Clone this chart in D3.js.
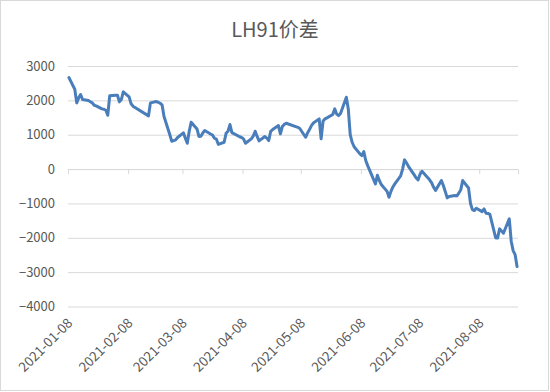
<!DOCTYPE html>
<html>
<head>
<meta charset="utf-8">
<script src="https://cdn.jsdelivr.net/npm/d3@7"></script>
<style>
  body { margin: 0; background: #fff; }
</style>
</head>
<body>
<div id="chart"></div>
<script>
// chart data
const title = "LH91价差";

const dates = [
  "2021-01-08","2021-01-11","2021-01-12","2021-01-13","2021-01-14","2021-01-15","2021-01-18","2021-01-19",
  "2021-01-20","2021-01-21","2021-01-22","2021-01-25","2021-01-26","2021-01-27","2021-01-28","2021-01-29",
  "2021-02-01","2021-02-02","2021-02-03","2021-02-04","2021-02-05","2021-02-08","2021-02-09","2021-02-10",
  "2021-02-18","2021-02-19","2021-02-22","2021-02-23","2021-02-24","2021-02-25","2021-02-26",
  "2021-03-01","2021-03-02","2021-03-03","2021-03-04","2021-03-05","2021-03-08","2021-03-09","2021-03-10",
  "2021-03-11","2021-03-12","2021-03-15","2021-03-16","2021-03-17","2021-03-18","2021-03-19","2021-03-22",
  "2021-03-23","2021-03-24","2021-03-25","2021-03-26","2021-03-29","2021-03-30","2021-03-31",
  "2021-04-01","2021-04-02","2021-04-06","2021-04-07","2021-04-08","2021-04-09","2021-04-12","2021-04-13",
  "2021-04-14","2021-04-15","2021-04-16","2021-04-19","2021-04-20","2021-04-21","2021-04-22","2021-04-23",
  "2021-04-26","2021-04-27","2021-04-28","2021-04-29","2021-04-30",
  "2021-05-06","2021-05-07","2021-05-10","2021-05-11","2021-05-12","2021-05-13","2021-05-14","2021-05-17",
  "2021-05-18","2021-05-19","2021-05-20","2021-05-21","2021-05-24","2021-05-25","2021-05-26","2021-05-27",
  "2021-05-28","2021-05-31",
  "2021-06-01","2021-06-02","2021-06-03","2021-06-04","2021-06-07","2021-06-08","2021-06-09","2021-06-10",
  "2021-06-11","2021-06-15","2021-06-16","2021-06-17","2021-06-18","2021-06-21","2021-06-22","2021-06-23",
  "2021-06-24","2021-06-25","2021-06-28","2021-06-29","2021-06-30",
  "2021-07-01","2021-07-02","2021-07-05","2021-07-06","2021-07-07","2021-07-08","2021-07-09","2021-07-12",
  "2021-07-13","2021-07-14","2021-07-15","2021-07-16","2021-07-19","2021-07-20","2021-07-21","2021-07-22",
  "2021-07-23","2021-07-26","2021-07-27","2021-07-28","2021-07-29","2021-07-30",
  "2021-08-02","2021-08-03","2021-08-04","2021-08-05","2021-08-06","2021-08-09","2021-08-10","2021-08-11",
  "2021-08-12","2021-08-13","2021-08-16","2021-08-17","2021-08-18","2021-08-19","2021-08-20","2021-08-23",
  "2021-08-24","2021-08-25","2021-08-26","2021-08-27"
];

const values = [
  2664, 2323, 1927, 2073, 2169, 2023, 1994, 1960,
  1927, 1857, 1840, 1753, 1741, 1712, 1566, 2131,
  2149, 2149, 1956, 2023, 2247, 2102, 1907, 1829,
  1548, 1927, 1965, 1945, 1916, 1870, 1530,
  1000, 810, 830, 850, 920, 1054, 900, 751,
  1100, 1362, 1169, 950, 955, 1050, 1121, 1020,
  990, 897, 870, 720, 780, 1040, 1100,
  1296, 1060, 940, 920, 879, 751, 880, 960,
  1101, 950, 820, 946, 900, 830, 1100, 1150,
  1266, 1025, 1237, 1300, 1334,
  1215, 1180, 926, 1050, 1150, 1266, 1340, 1461,
  880, 1400, 1461, 1490, 1590, 1752, 1600, 1557,
  1620, 2092,
  1750, 1000, 780, 650, 442, 393, 509, 250,
  100, -431, -180, -330, -450, -650, -821, -650,
  -520, -431, -200, 0, 268,
  180, 80, -170, -260, -314, -150, -64, -250,
  -320, -400, -530, -620, -335, -480, -650, -838,
  -800, -771, -780, -700, -600, -335,
  -550, -1000, -1180, -1208, -1141, -1237, -1160, -1286,
  -1290, -1320, -2003, -2003, -1741, -1800, -1868, -1450,
  -2100, -2373, -2489, -2838
];

const yTicks = [3000, 2000, 1000, 0, -1000, -2000, -3000, -4000];
const xTickLabels = ["2021-01-08","2021-02-08","2021-03-08","2021-04-08","2021-05-08","2021-06-08","2021-07-08","2021-08-08"];

const width = 550;
const height = 392;
const marginLeft = 68;
const marginRight = 32;
const plotTop = 66;
const plotBottom = 306.5;
const textColor = "#595959";
const gridColor = "#d9d9d9";
const lineColor = "#4a7ebb";
const font = "'Noto Sans CJK SC', 'Noto Sans', sans-serif";

const parse = d3.timeParse("%Y-%m-%d");
const data = dates.map((d, i) => ({date: parse(d), value: values[i]}));

// Excel date axis: each day is a slot, point sits in the middle of it
const x = d3.scaleTime()
  .domain([parse(dates[0]), d3.timeDay.offset(parse(dates[dates.length - 1]), 1)])
  .range([marginLeft, width - marginRight]);

const y = d3.scaleLinear()
  .domain([-4000, 3000])
  .range([plotBottom, plotTop]);

const svg = d3.select("#chart").append("svg")
  .attr("width", width)
  .attr("height", height)
  .attr("viewBox", [0, 0, width, height])
  .style("font-family", font);

// chart border
svg.append("rect")
  .attr("x", 0.5).attr("y", 0.5)
  .attr("width", width - 2).attr("height", height - 2)
  .attr("fill", "#fff")
  .attr("stroke", gridColor);

// title
svg.append("text")
  .attr("x", 275)
  .attr("y", 37)
  .attr("text-anchor", "middle")
  .attr("fill", textColor)
  .style("font-size", "20px")
  .text(title);

// gridlines + y labels
const yAxis = svg.append("g")
  .attr("transform", `translate(${marginLeft},0)`)
  .call(d3.axisLeft(y)
    .tickValues(yTicks)
    .tickFormat(d3.format("d"))
    .tickSize(-(width - marginRight - marginLeft))
    .tickPadding(13))
  .call(g => g.select(".domain").remove());
yAxis.selectAll(".tick line").attr("stroke", gridColor);
yAxis.selectAll(".tick text")
  .attr("fill", textColor)
  .style("font-size", "13px")
  .style("font-family", font);

// horizontal axis at zero with outward ticks
const xTickDates = xTickLabels.map(parse);
const xAxis = svg.append("g")
  .attr("transform", `translate(0,${y(0)})`)
  .call(d3.axisBottom(x).tickValues(xTickDates).tickSize(5).tickFormat(""));
xAxis.select(".domain").attr("stroke", gridColor);
xAxis.selectAll(".tick line").attr("stroke", gridColor);

// rotated date labels at the bottom
svg.append("g")
  .selectAll("text")
  .data(xTickDates)
  .join("text")
  .attr("transform", d => `translate(${x(d) + 2},${plotBottom + 14}) rotate(-45)`)
  .attr("text-anchor", "end")
  .attr("dy", "0.35em")
  .attr("fill", textColor)
  .style("font-size", "13.5px")
  .text((d, i) => xTickLabels[i]);

// the series
const line = d3.line()
  .x(d => x(d3.timeHour.offset(d.date, 12)))
  .y(d => y(d.value));

svg.append("path")
  .datum(data)
  .attr("fill", "none")
  .attr("stroke", lineColor)
  .attr("stroke-width", 3)
  .attr("stroke-linejoin", "round")
  .attr("stroke-linecap", "round")
  .attr("d", line);
</script>
</body>
</html>
